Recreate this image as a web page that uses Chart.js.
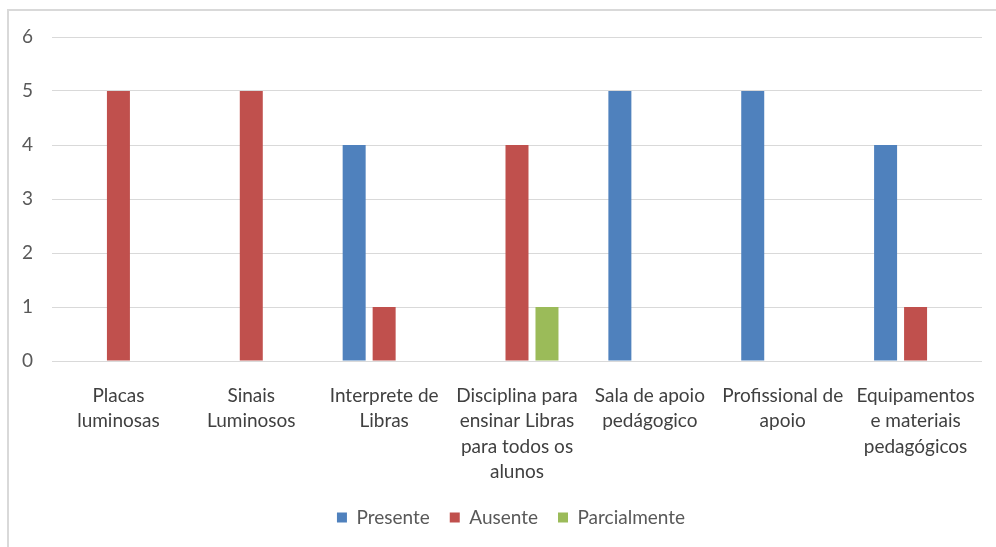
<!DOCTYPE html>
<html>
<head>
<meta charset="utf-8">
<script src="https://cdn.jsdelivr.net/npm/chart.js@4/dist/chart.umd.min.js"></script>
<style>
  html, body { margin: 0; padding: 0; background: #fff; overflow: hidden; }
  #frame { position: absolute; left: 7px; top: 9px; width: 1100px; height: 700px; border: 2px solid #d9d9d9; box-sizing: border-box; }
  #wrap { position: absolute; left: 0; top: 0; width: 996px; height: 547px; }
</style>
</head>
<body>
<div id="frame"></div>
<div id="wrap"><canvas id="c" width="996" height="547"></canvas></div>
<script>
const categories = [
  ["Placas", "luminosas"],
  ["Sinais", "Luminosos"],
  ["Interprete de", "Libras"],
  ["Disciplina para", "ensinar Libras", "para todos os", "alunos"],
  ["Sala de apoio", "pedágogico"],
  ["Profissional de", "apoio"],
  ["Equipamentos", "e materiais", "pedagógicos"]
];
const presente = [0, 0, 4, 0, 5, 5, 4];
const ausente = [5, 5, 1, 4, 0, 0, 1];
const parcialmente = [0, 0, 0, 1, 0, 0, 0];
const seriesNames = ["Presente", "Ausente", "Parcialmente"];
const seriesColors = ["#4F81BD", "#C0504D", "#9BBB59"];

const FONT = "Lato, 'Liberation Sans', sans-serif";

const shiftLegend = {
  id: 'shiftLegend',
  afterLayout(chart) {
    const lg = chart.legend;
    if (lg) { lg.left += 20; lg.right += 20; }
  }
};

new Chart(document.getElementById('c'), {
  type: 'bar',
  data: {
    labels: categories,
    datasets: [
      { label: seriesNames[0], data: presente, backgroundColor: seriesColors[0] },
      { label: seriesNames[1], data: ausente, backgroundColor: seriesColors[1] },
      { label: seriesNames[2], data: parcialmente, backgroundColor: seriesColors[2] }
    ]
  },
  plugins: [shiftLegend],
  options: {
    responsive: false,
    animation: false,
    events: [],
    datasets: { bar: { categoryPercentage: 0.677, barPercentage: 0.767, borderWidth: 0 } },
    layout: { padding: { top: 37, right: 14, bottom: 10, left: 0 } },
    plugins: {
      tooltip: { enabled: false },
      legend: {
        position: 'bottom',
        labels: {
          boxWidth: 10, boxHeight: 10, padding: 20,
          color: '#595959',
          font: { family: FONT, size: 19 }
        }
      }
    },
    scales: {
      x: {
        grid: { display: false },
        border: { display: false },
        ticks: {
          color: '#404040',
          padding: 14,
          maxRotation: 0,
          autoSkip: false,
          font: { family: FONT, size: 19, lineHeight: 1.34 }
        },
        afterFit: (s) => { s.height = 127; }
      },
      y: {
        min: 0, max: 6,
        grid: { color: '#d9d9d9', lineWidth: 1, drawTicks: false },
        border: { display: false },
        ticks: {
          stepSize: 1,
          color: '#595959',
          padding: 19,
          font: { family: FONT, size: 19 }
        },
        afterFit: (s) => { s.width = 52; }
      }
    }
  }
});
</script>
</body>
</html>
